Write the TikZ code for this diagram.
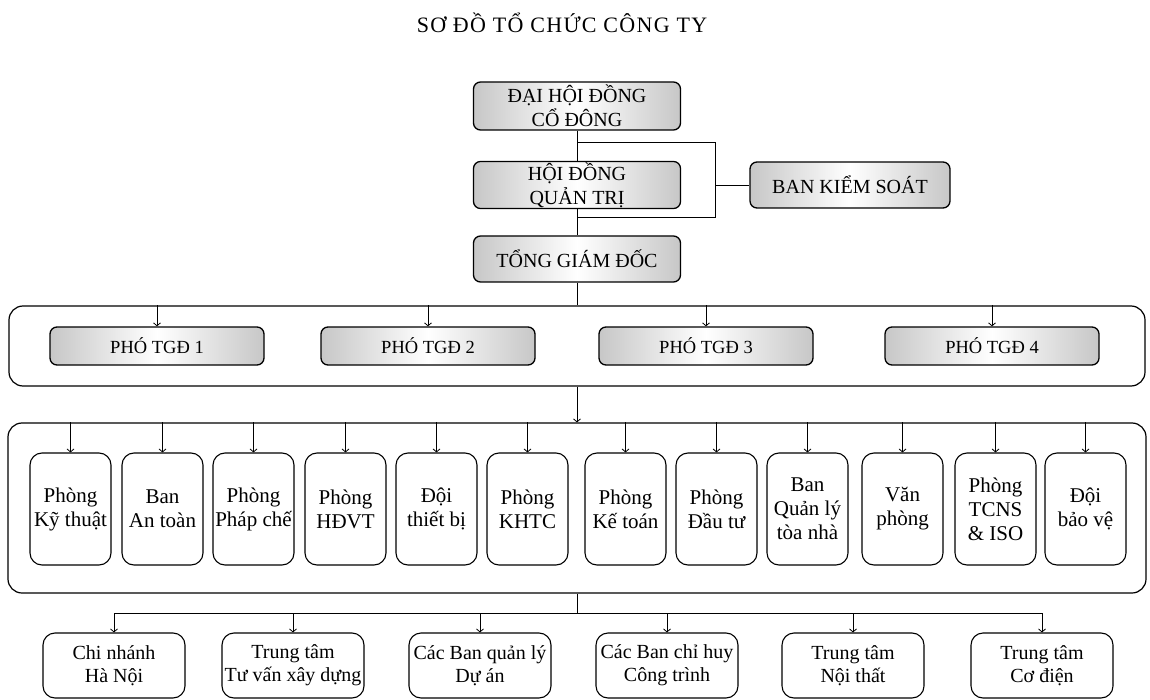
\documentclass[tikz,border=0pt]{standalone}
\usepackage{fontspec}
\setmainfont{Liberation Serif}
\usetikzlibrary{arrows.meta}
\begin{document}
\begin{tikzpicture}[x=1pt,y=-1pt,
  hdr/.style={draw, line width=1.3pt, rounded corners=7pt, left color=black!22, right color=black!22, middle color=white, align=center, inner sep=1pt, font=\fontsize{20}{24}\selectfont},
  subbox/.style={hdr, minimum width=214pt, minimum height=38pt, font=\fontsize{18.5}{22}\selectfont},
  cont/.style={draw, line width=1.2pt, rounded corners=14pt},
  dept/.style={draw, line width=1.1pt, rounded corners=12pt, minimum width=81pt, minimum height=112pt, align=center, inner sep=1pt, font=\fontsize{21}{24}\selectfont},
  unit/.style={draw, line width=1.1pt, rounded corners=12pt, minimum width=142pt, minimum height=65pt, align=center, inner sep=1pt, font=\fontsize{20}{23}\selectfont},
  link/.style={draw, line width=0.8pt},
  arr/.style={link, -{Straight Barb[length=3pt,width=7pt]}}
]
\useasboundingbox (0,0) rectangle (1150,700);

\node[font=\fontsize{22}{24}\selectfont\addfontfeatures{LetterSpace=6}] (title) at (562,23) {SƠ ĐỒ TỔ CHỨC CÔNG TY};

% top hierarchy
\node[hdr, minimum width=207pt, minimum height=48pt] (dh) at (577,106) {ĐẠI HỘI ĐỒNG\\CỔ ĐÔNG};
\node[hdr, minimum width=207pt, minimum height=46pt] (hd) at (577,185) {HỘI ĐỒNG\\QUẢN TRỊ};
\node[hdr, minimum width=200pt, minimum height=46pt] (bks) at (850,185) {BAN KIỂM SOÁT};
\node[hdr, minimum width=207pt, minimum height=46pt] (tgd) at (577,259) {TỔNG GIÁM ĐỐC};

\coordinate (bt) at (577,142);
\coordinate (bb) at (577,217);
\coordinate (brT) at (715,142);
\coordinate (brB) at (715,217);

\draw[link] (dh) -- (hd);
\draw[link] (hd) -- (tgd);
\draw[link] (bt) -- (brT) -- (brB) -- (bb);
\draw[link] (brT |- bks.west) -- (bks.west);

% deputy directors
\node[cont, minimum width=1136pt, minimum height=80pt] (c1) at (577,346) {};
\node[subbox] (p1) at (157,346) {PHÓ TGĐ 1};
\node[subbox] (p2) at (428,346) {PHÓ TGĐ 2};
\node[subbox] (p3) at (706,346) {PHÓ TGĐ 3};
\node[subbox] (p4) at (992,346) {PHÓ TGĐ 4};
\draw[link] (tgd) -- (c1);
\foreach \n in {p1,p2,p3,p4} \draw[arr] (c1.north -| \n) -- (\n);

% departments
\node[cont, minimum width=1138pt, minimum height=170pt] (c2) at (577,508) {};
\draw[arr] (c1) -- (c2);
\node[dept] (d1) at (70.5,509) {Phòng\\Kỹ thuật};
\node[dept] (d2) at (162.5,509) {Ban\\An toàn};
\node[dept] (d3) at (253.5,509) {Phòng\\Pháp chế};
\node[dept] (d4) at (345.5,509) {Phòng\\HĐVT};
\node[dept] (d5) at (436.5,509) {Đội\\thiết bị};
\node[dept] (d6) at (527.5,509) {Phòng\\KHTC};
\node[dept] (d7) at (625.5,509) {Phòng\\Kế toán};
\node[dept] (d8) at (716.5,509) {Phòng\\Đầu tư};
\node[dept] (d9) at (807.5,509) {Ban\\Quản lý\\tòa nhà};
\node[dept] (d10) at (902.5,509) {Văn\\phòng};
\node[dept] (d11) at (995.5,509) {Phòng\\TCNS\\\& ISO};
\node[dept] (d12) at (1085.5,509) {Đội\\bảo vệ};
\foreach \n in {d1,d2,d3,d4,d5,d6,d7,d8,d9,d10,d11,d12} \draw[arr] (c2.north -| \n) -- (\n);

% units
\coordinate (hb) at (577,613);
\coordinate (hl) at (114,613);
\coordinate (hr) at (1042,613);
\draw[link] (c2) -- (hb);
\draw[link] (hl) -- (hr);
\node[unit] (u1) at (114,665.5) {Chi nhánh\\Hà Nội};
\node[unit] (u2) at (293,665.5) {Trung tâm\\Tư vấn xây dựng};
\node[unit] (u3) at (480,665.5) {Các Ban quản lý\\Dự án};
\node[unit] (u4) at (667,665.5) {Các Ban chỉ huy\\Công trình};
\node[unit] (u5) at (853,665.5) {Trung tâm\\Nội thất};
\node[unit] (u6) at (1042,665.5) {Trung tâm\\Cơ điện};
\foreach \n in {u1,u2,u3,u4,u5,u6} \draw[arr] (hb -| \n) -- (\n);
\end{tikzpicture}
\end{document}
